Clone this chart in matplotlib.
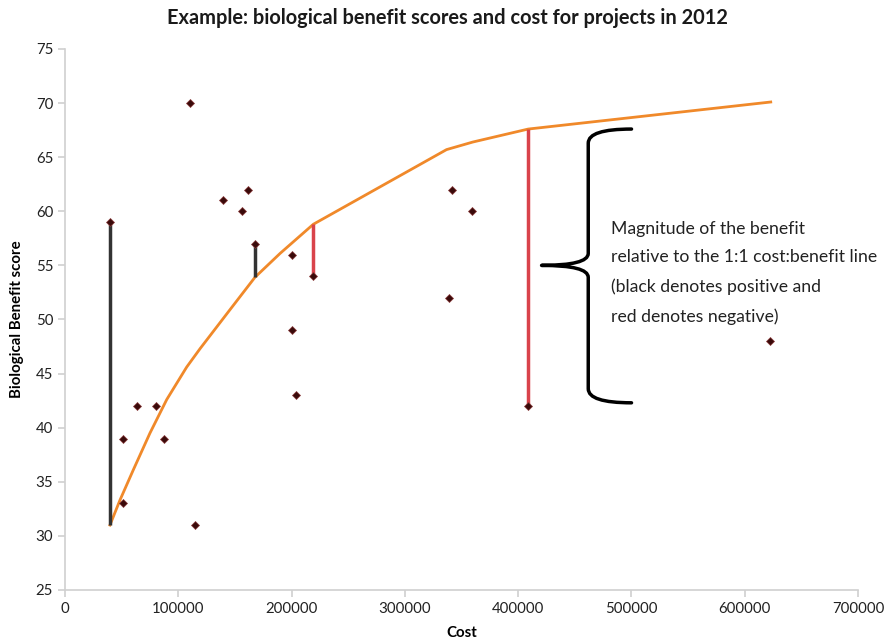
# -*- coding: utf-8 -*-
# Benefit score vs cost with cost:benefit curve
import matplotlib as mpl
mpl.use('Agg')
import matplotlib.pyplot as plt
from matplotlib.path import Path
from matplotlib.patches import PathPatch

mpl.rcParams['font.family'] = ['Lato', 'DejaVu Sans']
mpl.rcParams['font.size'] = 10

# project data
cost = [39700, 50900, 50900, 63300, 80000, 87400, 110300, 114700, 139700, 155900,
        161200, 167700, 200000, 200000, 203900, 219200, 338600, 341900, 359700,
        408900, 622000]
score = [59, 39, 33, 42, 42, 39, 70, 31, 61, 60,
         62, 57, 56, 49, 43, 54, 52, 62, 60,
         42, 48]

# 1:1 cost:benefit curve
curve_cost = [39700, 48500, 60300, 75000, 89800, 107400, 119200, 145600,
              167700, 189800, 219200, 336800, 360000, 408900, 623000]
curve_score = [31.0, 33.3, 36.1, 39.5, 42.6, 45.6, 47.3, 50.9,
               53.9, 56.1, 58.8, 65.7, 66.4, 67.6, 70.1]

# deviation from the curve
dev_cost = [39700, 167700, 219200, 408900]
dev_curve = [31.0, 53.9, 58.8, 67.6]
dev_score = [59, 57, 54, 42]

note = ("Magnitude of the benefit\n"
        "relative to the 1:1 cost:benefit line\n"
        "(black denotes positive and\n"
        "red denotes negative)")

fig = plt.figure(figsize=(8.94, 6.42), dpi=100)
ax = fig.add_axes([0.0727, 0.081, 0.887, 0.8427])

ax.plot(curve_cost, curve_score, color='#f0892a', lw=2, zorder=2)
for x, y0, y1 in zip(dev_cost, dev_curve, dev_score):
    c = '#333333' if y1 > y0 else '#d9434b'
    ax.plot([x, x], [y0, y1], color=c, lw=2.5, solid_capstyle='butt', zorder=3)
ax.plot(cost, score, ls='none', marker='D', ms=4, color='#3a0a0a',
        markeredgecolor='#8a3a3a', markeredgewidth=0.5, zorder=4)

# curly brace
xs, xe, xt = 461900, 500100, 420700
yt, ym, yb = 67.6, 55.0, 42.3
verts = [(xe, yt), (xs, yt), (xs, yt - 1.3),
         (xs, ym + 1.1),
         (xs, ym), (xt, ym),
         (xs, ym), (xs, ym - 1.1),
         (xs, yb + 1.3),
         (xs, yb), (xe, yb)]
codes = [Path.MOVETO, Path.CURVE3, Path.CURVE3,
         Path.LINETO,
         Path.CURVE3, Path.CURVE3,
         Path.CURVE3, Path.CURVE3,
         Path.LINETO,
         Path.CURVE3, Path.CURVE3]
ax.add_patch(PathPatch(Path(verts, codes), fill=False, lw=2.5, color='black',
                       capstyle='round', joinstyle='round'))

ax.text(482000, 54.3, note, fontsize=12.7, va='center', ha='left',
        linespacing=1.98, color='#222222')

ax.set_xlim(0, 700000)
ax.set_ylim(25, 75)
ax.set_xticks(range(0, 700001, 100000))
ax.set_yticks(range(25, 76, 5))
for s in ['top', 'right']:
    ax.spines[s].set_visible(False)
for s in ['left', 'bottom']:
    ax.spines[s].set_color('#d0d0d0')
    ax.spines[s].set_linewidth(1.2)
ax.tick_params(color='#d0d0d0', length=5, width=1.2, labelsize=10.8,
               labelcolor='#222222')

ax.set_xlabel('Cost', fontweight='bold', fontsize=10.8, labelpad=7)
ax.set_ylabel('Biological Benefit score', fontweight='bold', fontsize=10.8,
              labelpad=8)
fig.text(0.5, 0.972, 'Example: biological benefit scores and cost for projects in 2012',
         ha='center', va='center', fontweight='bold', fontsize=14.4,
         color='#1a1a1a')

plt.savefig('out.png', dpi=100)
